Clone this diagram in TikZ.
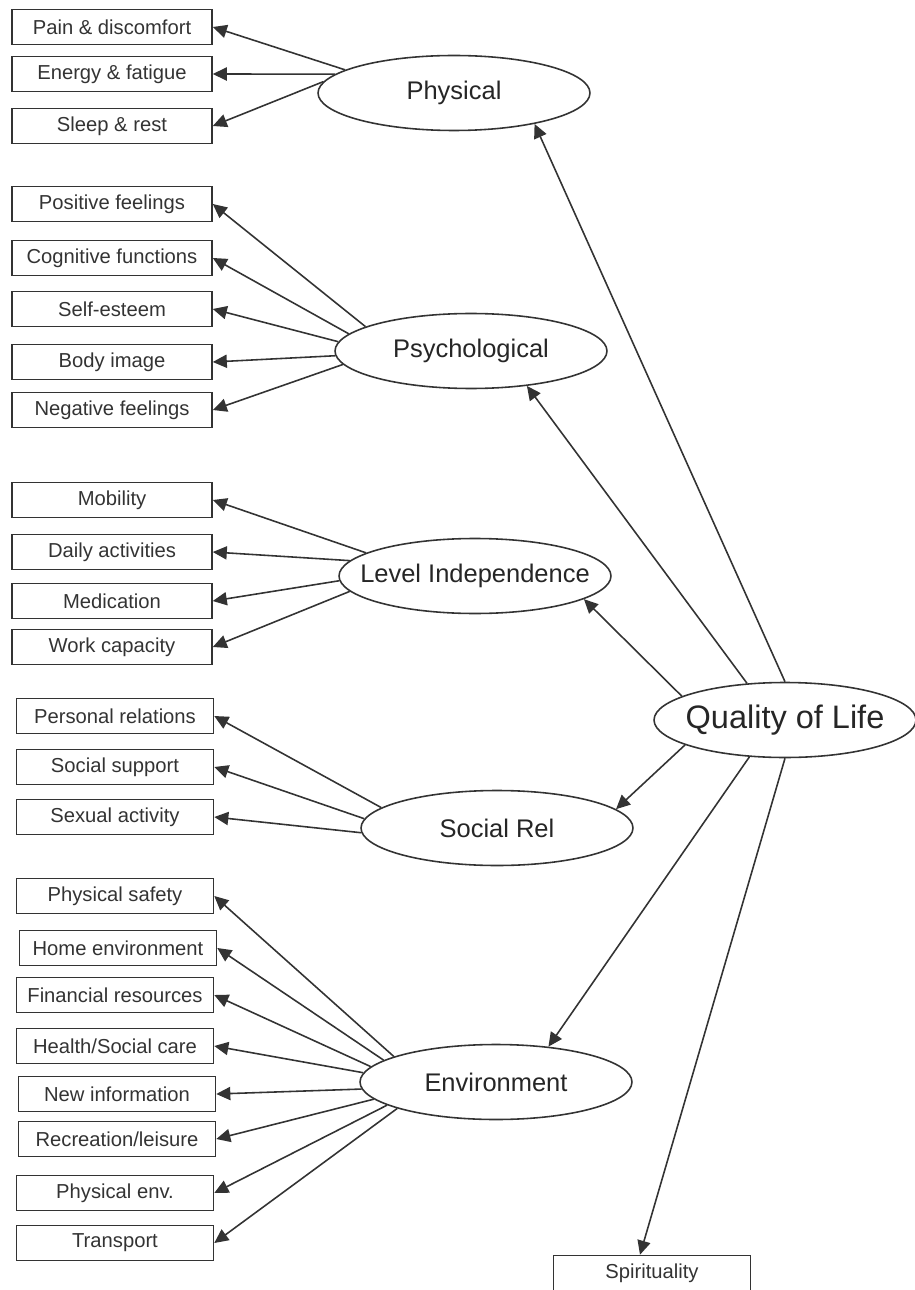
\documentclass[tikz,border=0pt]{standalone}
\usepackage{fontspec}
\setmainfont{Liberation Sans}
\usetikzlibrary{arrows.meta,shapes.geometric}

\tikzset{
  item/.style={draw=black!80, line width=0.9pt, rectangle, minimum width=4cm,
    minimum height=0.7cm, inner sep=0pt, text=black!80,
    font=\fontsize{11.5}{13}\selectfont},
  factor/.style={draw=black!80, line width=0.9pt, ellipse, minimum width=5.44cm,
    minimum height=1.5cm, inner sep=0pt, inner xsep=-1cm, text=black!85,
    font=\fontsize{14.5}{16}\selectfont},
  link/.style={draw=black!80, line width=0.9pt, -{Triangle[length=8pt,width=7.5pt]}}
}

\begin{document}
\begin{tikzpicture}[x=0.02cm, y=-0.02cm]
\useasboundingbox (0,0) rectangle (915,1290);

% second-order factor
\node[factor, minimum width=5.24cm, font=\fontsize{18.5}{20}\selectfont] (qol) at (785,720) {Quality of Life};

% first-order factors
\node[factor] (phys) at (454,93) {Physical};
\node[factor] (psych) at (471,351) {Psychological};
\node[factor] (level) at (475,576) {Level Independence};
\node[factor] (social) at (497,828) {Social Rel};
\node[factor] (environ) at (496,1082) {Environment};

% facets
\node[item] (pain) at (112,27) {Pain \& discomfort};
\node[item] (energy) at (112,74) {Energy \& fatigue};
\node[item] (sleep) at (112,126) {Sleep \& rest};

\node[item] (posfeel) at (112,204) {Positive feelings};
\node[item] (cognit) at (112,258) {Cognitive functions};
\node[item] (selfest) at (112,309) {Self-esteem};
\node[item] (bodyimg) at (112,362) {Body image};
\node[item] (negfeel) at (112,410) {Negative feelings};

\node[item] (mobil) at (112,500) {Mobility};
\node[item] (daily) at (112,552) {Daily activities};
\node[item] (medic) at (112,601) {Medication};
\node[item] (workcap) at (112,647) {Work capacity};

\node[item, minimum width=3.94cm] (persrel) at (115,716) {Personal relations};
\node[item, minimum width=3.94cm] (socsup) at (115,767) {Social support};
\node[item, minimum width=3.94cm] (sexact) at (115,817) {Sexual activity};

\node[item, minimum width=3.94cm] (safety) at (115,896) {Physical safety};
\node[item, minimum width=3.94cm] (home) at (118,948) {Home environment};
\node[item, minimum width=3.94cm] (finance) at (115,995) {Financial resources};
\node[item, minimum width=3.94cm] (health) at (115,1046) {Health/Social care};
\node[item, minimum width=3.94cm] (newinfo) at (117,1094) {New information};
\node[item, minimum width=3.94cm] (recreat) at (117,1139) {Recreation/leisure};
\node[item, minimum width=3.94cm] (physenv) at (115,1193) {Physical env.};
\node[item, minimum width=3.94cm] (transp) at (115,1243) {Transport};

\node[item, minimum width=3.94cm] (spirit) at (652,1273) {Spirituality};

% quality of life to factors
\draw[link] (qol.90) -- (phys.-21);
\draw[link] (qol.136) -- (psych.-32);
\draw[link] (qol.167) -- (level.-12);
\draw[link] (qol.194) -- (social.9);
\draw[link] (qol.226) -- (environ.34);
\draw[link] (qol.270) -- ([xshift=-0.24cm]spirit.north);

% factors to facets
\draw[link] (phys.168) -- (pain.east);
\draw[link] (phys.171) -- (energy.east);
\draw[link] (phys.175) -- (sleep.east);

\draw[link] (psych.167) -- (posfeel.east);
\draw[link] (psych.172) -- (cognit.east);
\draw[link] (psych.176) -- (selfest.east);
\draw[link] (psych.182) -- (bodyimg.east);
\draw[link] (psych.186) -- (negfeel.east);

\draw[link] (level.168) -- (mobil.east);
\draw[link] (level.173) -- (daily.east);
\draw[link] (level.182) -- (medic.east);
\draw[link] (level.187) -- (workcap.east);

\draw[link] (social.170) -- (persrel.east);
\draw[link] (social.176) -- (socsup.east);
\draw[link] (social.182) -- (sexact.east);

\draw[link] (environ.166) -- (safety.east);
\draw[link] (environ.169) -- (home.east);
\draw[link] (environ.173) -- (finance.east);
\draw[link] (environ.176) -- (health.east);
\draw[link] (environ.183) -- (newinfo.east);
\draw[link] (environ.188) -- (recreat.east);
\draw[link] (environ.192) -- (physenv.east);
\draw[link] (environ.195) -- (transp.east);
\end{tikzpicture}
\end{document}
